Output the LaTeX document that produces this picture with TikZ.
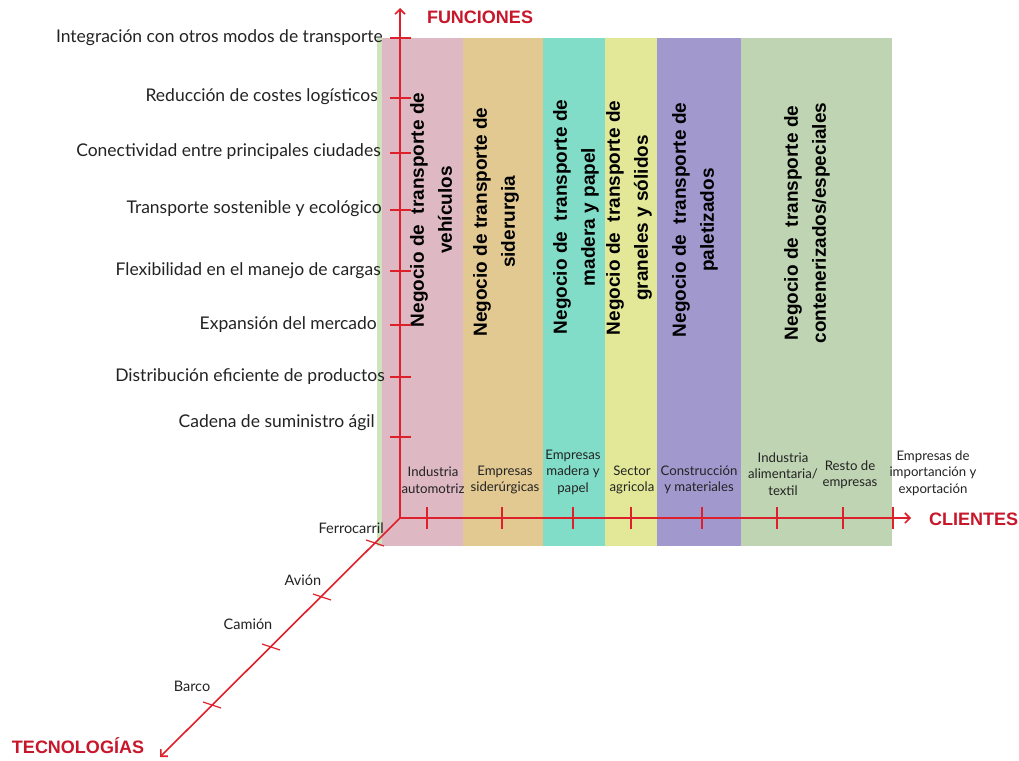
\documentclass[tikz,border=0pt]{standalone}
\usepackage{fontspec}
\setmainfont{Lato}
\newfontfamily\arialfont{Liberation Sans}
\usetikzlibrary{arrows.meta}
\definecolor{axisred}{RGB}{222,32,44}
\definecolor{titlered}{RGB}{200,22,42}
\definecolor{labgray}{RGB}{35,35,35}
\definecolor{bpink}{RGB}{222,184,194}
\definecolor{btan}{RGB}{226,201,146}
\definecolor{bteal}{RGB}{130,221,200}
\definecolor{byellow}{RGB}{226,232,152}
\definecolor{bpurple}{RGB}{161,153,205}
\definecolor{bgreen}{RGB}{191,212,179}
\definecolor{bstrip}{RGB}{205,228,188}
\tikzset{
  axisline/.style={draw=axisred, line width=1.6pt, -{Straight Barb[length=5pt,width=10pt]}},
  tk/.style={draw=axisred, line width=1.6pt},
  flab/.style={anchor=east, inner sep=0pt, text=labgray, font=\fontsize{17.5}{19}\selectfont},
  clab/.style={align=center, inner sep=0pt, text=labgray, font=\fontsize{13.2}{16.5}\selectfont},
  tlab/.style={inner sep=0pt, text=labgray, font=\fontsize{14.5}{16}\selectfont},
  btxt/.style={rotate=90, align=center, inner sep=0pt, text=black, font=\arialfont\bfseries\fontsize{19}{28}\selectfont},
  axtitle/.style={inner sep=0pt, text=titlered, font=\arialfont\bfseries\fontsize{18}{20}\selectfont}
}
\begin{document}
\begin{tikzpicture}[x=1pt,y=-1pt]
\useasboundingbox (0,0) rectangle (1019,760);
\fill[white] (0,0) rectangle (1019,760);
% bands
\fill[bstrip] (377,38) rectangle (382,546);
\fill[bpink] (382,38) rectangle (463,546);
\fill[btan] (463,38) rectangle (543,546);
\fill[bteal] (543,38) rectangle (605,546);
\fill[byellow] (605,38) rectangle (657,546);
\fill[bpurple] (657,38) rectangle (741,546);
\fill[bgreen] (741,38) rectangle (892,546);
% band texts
\node[btxt] (b1) at (431,210) {Negocio de\ \ transporte de\\vehículos};
\node[btxt] (b2) at (496,222) {Negocio de transporte de\\siderurgia};
\node[btxt] (b3) at (576,217) {Negocio de\ \ transporte de\\madera y papel};
\node[btxt] (b4) at (629,218) {Negocio de\ \ transporte de\\graneles y sólidos};
\node[btxt] (b5) at (695,220) {Negocio de\ \ transporte de\\paletizados};
\node[btxt] (b6) at (807,223) {Negocio de\ \ transporte de\\contenerizados/especiales};
% axes
\coordinate (O) at (400,518);
\coordinate (Ftop) at (400,8);
\coordinate (Cend) at (911,518);
\coordinate (Tend) at (160,757);
\draw[axisline] (O) -- (Ftop);
\draw[axisline] (O) -- (Cend);
\draw[axisline] (O) -- (Tend);
% function ticks and labels
\foreach \n/\y/\ly/\lx/\t in {1/38/38/383/Integración con otros modos de transporte,
  2/98/97/378/Reducción de costes logísticos,
  3/153/152/381/Conectividad entre principales ciudades,
  4/210/209/382/Transporte sostenible y ecológico,
  5/271/271/381/Flexibilidad en el manejo de cargas,
  6/325/325/377/Expansión del mercado,
  7/377/377/385/Distribución eficiente de productos,
  8/437/423/375/Cadena de suministro ágil}{
  \coordinate (f\n) at (400,\y);
  \draw[tk] (f\n) +(-10,0) -- +(11,0);
  \node[flab] (fl\n) at (\lx,\ly) {\t};
}
% client ticks
\foreach \n/\x in {1/427,2/502,3/573,4/631,5/702,6/777,7/843,8/893}{
  \coordinate (c\n) at (\x,518);
  \draw[tk] (c\n) +(0,-11) -- +(0,11);
}
\node[clab] (cl1) at (433,480) {Industria\\automotriz};
\node[clab] (cl2) at (505,480) {Empresas\\siderúrgicas};
\node[clab] (cl3) at (573,472) {Empresas\\madera y\\papel};
\node[clab] (cl4) at (632,480) {Sector\\agricola};
\node[clab] (cl5) at (699,480) {Construcción\\y materiales};
\node[clab] (cl6) at (783,474) {Industria\\alimentaria/\\textil};
\node[clab] (cl7) at (850,475) {Resto de\\empresas};
\node[clab] (cl8) at (933,473) {Empresas de\\importanción y\\exportación};
% technology ticks
\foreach \n/\x/\y in {1/375/543,2/322/597,3/271/647,4/212/705}{
  \coordinate (t\n) at (\x,\y);
  \draw[tk, line width=1.2pt] (t\n) +(-9,-3) -- +(9,3);
}
\node[tlab, anchor=east] (tl1) at (384,528) {Ferrocarril};
\node[tlab] (tl2) at (303,580) {Avión};
\node[tlab] (tl3) at (248,624) {Camión};
\node[tlab] (tl4) at (192,686) {Barco};
% titles
\node[axtitle] (tf) at (480,17) {FUNCIONES};
\node[axtitle, anchor=west] (tc) at (929,519) {CLIENTES};
\node[axtitle] (tt) at (78,746) {TECNOLOGÍAS};
\end{tikzpicture}
\end{document}
